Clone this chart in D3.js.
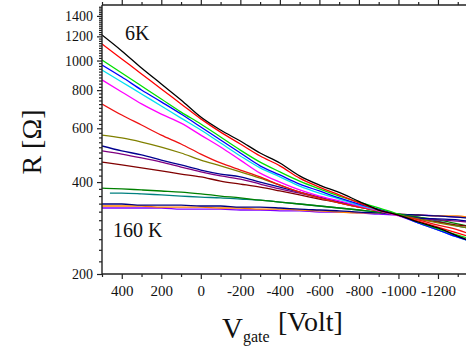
<!DOCTYPE html>
<html>
<head>
<meta charset="utf-8">
<script src="https://cdn.jsdelivr.net/npm/d3@7"></script>
<style>
  html, body { margin: 0; padding: 0; background: #fff; }
  svg { display: block; }
  svg text { font-family: "Liberation Serif", "Times New Roman", "DejaVu Serif", serif !important; fill: #111; }
</style>
</head>
<body>
<svg id="chart" width="466" height="347"></svg>
<script>
// Gate voltages (V) at which curves were read
const vgate = [500, 400, 300, 200, 100, 0, -100, -200, -300, -400, -500, -600, -700, -800, -900, -1000, -1100, -1200, -1300, -1350];
const vgateTeal = [460, 400, 300, 200, 100, 0, -100, -200, -300, -400, -500, -600, -700, -800, -900, -1000, -1100, -1200, -1300, -1350];

// Resistance (Ohm) per temperature curve, from 6 K (top) to 160 K (bottom)
const rBlack   = [1212,1075,945,838,743,653,592,545,498,462,419,391,370,346,324,312,296,283,266,258];
const rRed     = [1133,1012,904,807,721,644,583,533,487,452,412,385,363,342,324,312,298,285,272,266];
const rGreen   = [1004,910,825,748,678,620,562,509,465,432,403,380,360,344,329,314,296,281,268,262];
const rBlue    = [967,883,801,732,668,606,549,498,452,422,394,374,355,339,326,312,294,279,264,258];
const rCyan    = [931,851,777,710,648,592,537,487,445,416,388,368,352,336,324,312,294,279,264,258];
const rMagenta = [864,789,721,668,624,570,521,472,428,400,377,360,347,334,322,310,294,279,266,260];
const rRed2    = [721,663,615,570,533,494,462,438,416,391,371,355,342,331,322,312,301,289,279,272];
const rOlive   = [570,558,541,521,498,472,452,432,412,391,371,355,342,331,322,312,303,294,287,283];
const rNavy    = [525,506,491,472,455,438,425,416,400,385,371,357,344,334,322,312,305,303,301,298];
const rPurple  = [506,494,480,465,448,432,419,409,394,380,368,355,344,334,322,312,305,301,298,296];
const rWine    = [465,455,445,435,425,416,403,394,385,374,363,352,342,331,322,312,303,296,289,287];
const rDkGreen = [382,380,377,374,371,366,360,355,349,344,339,334,329,324,319,314,307,301,292,287];
const rTeal    = [368,368,366,363,360,357,355,352,349,344,339,334,329,324,319,314,307,298,287,283];
const rNavy2   = [339,339,336,336,336,334,334,331,331,329,326,324,322,319,317,314,312,310,307,305];
const rOrange  = [334,334,334,331,331,331,329,329,326,326,324,322,319,317,317,314,312,310,310,307];
const rViolet  = [329,329,329,329,326,326,326,324,324,322,322,319,319,317,314,312,312,310,307,307];

const seriesList = [
  { v: vgate, r: rBlack,   color: "#000000" },
  { v: vgate, r: rRed,     color: "#ff0000" },
  { v: vgate, r: rGreen,   color: "#00e000" },
  { v: vgate, r: rBlue,    color: "#0000ff" },
  { v: vgate, r: rCyan,    color: "#00e0f0" },
  { v: vgate, r: rMagenta, color: "#ff00ff" },
  { v: vgate, r: rRed2,    color: "#ee1111" },
  { v: vgate, r: rOlive,   color: "#808000" },
  { v: vgate, r: rNavy,    color: "#000090" },
  { v: vgate, r: rPurple,  color: "#800080" },
  { v: vgate, r: rWine,    color: "#800000" },
  { v: vgate, r: rDkGreen, color: "#008000" },
  { v: vgateTeal, r: rTeal, color: "#008080" },
  { v: vgate, r: rNavy2,   color: "#000080" },
  { v: vgate, r: rOrange,  color: "#ff8000" },
  { v: vgate, r: rViolet,  color: "#8000ff" }
];

const xMajor = [400, 200, 0, -200, -400, -600, -800, -1000, -1200];
const xMinor = [500, 300, 100, -100, -300, -500, -700, -900, -1100, -1300];
const yMajor = [200, 400, 600, 800, 1000, 1200, 1400];
const yMinor = d3.range(220, 1520, 20).filter(d => d % 200 !== 0);

const FONT = '"Liberation Serif", "Times New Roman", serif';
const svg = d3.select("#chart");
const L = 102, R = 477.5, T = 5, B = 274;

const x = d3.scaleLinear().domain([500, -1400]).range([L, R]);
const y = d3.scaleLog().domain([200, 1520]).range([B, T]);

svg.append("defs").append("clipPath").attr("id", "clip")
  .append("rect").attr("x", L).attr("y", T).attr("width", R - L).attr("height", B - T);

const line = d3.line().x(d => x(d[0])).y(d => y(d[1])).curve(d3.curveMonotoneX);

const g = svg.append("g").attr("clip-path", "url(#clip)");
seriesList.slice().reverse().forEach(s => {
  g.append("path")
    .datum(s.v.map((v, i) => [v, s.r[i]]))
    .attr("d", line)
    .attr("fill", "none")
    .attr("stroke", s.color)
    .attr("stroke-width", 1.3);
});

function styleAxis(sel) {
  sel.attr("font-family", null);
  sel.select(".domain").remove();
  sel.selectAll(".tick line").attr("stroke", "#222").attr("stroke-width", 1.2);
  sel.selectAll("text").style("font-family", FONT).attr("fill", "#111");
}

// Left axis
const yMinAx = svg.append("g").attr("transform", `translate(${L},0)`)
  .call(d3.axisLeft(y).tickValues(yMinor).tickSize(3).tickFormat(""));
styleAxis(yMinAx);
const yMajAx = svg.append("g").attr("transform", `translate(${L},0)`)
  .call(d3.axisLeft(y).tickValues(yMajor).tickSize(5).tickPadding(4).tickFormat(d3.format("d")));
styleAxis(yMajAx);
yMajAx.selectAll("text").style("font-size", "14px");

// Bottom axis
const xMinAx = svg.append("g").attr("transform", `translate(0,${B})`)
  .call(d3.axisBottom(x).tickValues(xMinor).tickSize(3).tickFormat(""));
styleAxis(xMinAx);
const xMajAx = svg.append("g").attr("transform", `translate(0,${B})`)
  .call(d3.axisBottom(x).tickValues(xMajor).tickSize(5).tickPadding(6).tickFormat(d3.format("d")));
styleAxis(xMajAx);
xMajAx.selectAll("text").style("font-size", "15px").text(d => d < 0 ? "-" + Math.abs(d) : d);

// Top axis (no labels)
const tMinAx = svg.append("g").attr("transform", `translate(0,${T})`)
  .call(d3.axisTop(x).tickValues(xMinor).tickSize(3).tickFormat(""));
styleAxis(tMinAx);
const tMajAx = svg.append("g").attr("transform", `translate(0,${T})`)
  .call(d3.axisTop(x).tickValues(xMajor).tickSize(5).tickFormat(""));
styleAxis(tMajAx);

// Frame
[[L, T, L, B], [L, B, R, B], [L, T, R, T], [R, T, R, B]].forEach(c => {
  svg.append("line").attr("x1", c[0]).attr("y1", c[1]).attr("x2", c[2]).attr("y2", c[3])
    .attr("stroke", "#222").attr("stroke-width", 1.4);
});

// Annotations
svg.append("text").attr("x", 125).attr("y", 40).style("font-size", "20px").text("6K");
svg.append("text").attr("x", 113).attr("y", 237).style("font-size", "20px").text("160 K");

// Axis titles
svg.append("text")
  .attr("transform", "translate(41,142) rotate(-90)")
  .attr("text-anchor", "middle")
  .style("font-size", "28px")
  .text("R [Ω]");

svg.append("text").attr("x", 222).attr("y", 338).style("font-size", "29px").text("V");
svg.append("text").attr("x", 243).attr("y", 342).style("font-size", "16px").text("gate");
svg.append("text").attr("x", 278).attr("y", 331).style("font-size", "28px").text("[Volt]");
</script>
</body>
</html>
